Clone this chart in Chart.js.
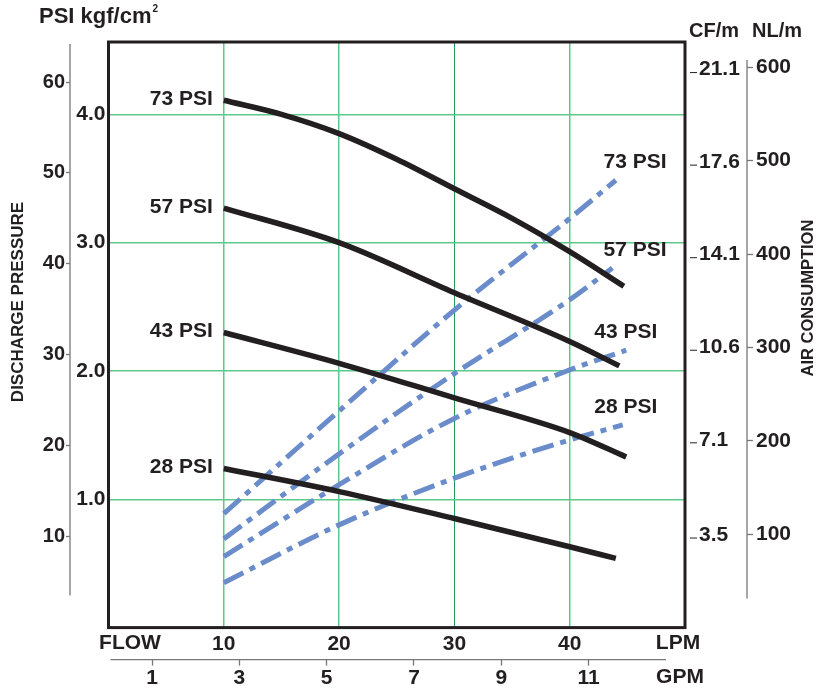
<!DOCTYPE html>
<html>
<head>
<meta charset="utf-8">
<script src="https://cdn.jsdelivr.net/npm/chart.js@4.4.1/dist/chart.umd.min.js"></script>
<style>
  html, body { margin: 0; padding: 0; background: #fff; }
  #wrap { width: 831px; height: 696px; position: relative; }
</style>
</head>
<body>
<div id="wrap"><canvas id="pump"></canvas></div>
<script>
// axis ticks
const lpmTicks = [10, 20, 30, 40];
const gpmTicks = [1, 3, 5, 7, 9, 11];
const psiTicks = [10, 20, 30, 40, 50, 60];
const kgfTicks = [1, 2, 3, 4];
const cfTicks = [3.5, 7.1, 10.6, 14.1, 17.6, 21.1];
const nlTicks = [100, 200, 300, 400, 500, 600];
const airLabels = ['73 PSI', '57 PSI', '43 PSI', '28 PSI'];

// discharge pressure (kgf/cm2) vs flow (LPM)
const flow73 = [10, 15, 20, 25, 30, 35, 40, 44.7];
const head73 = [4.11, 4.00, 3.85, 3.65, 3.42, 3.19, 2.93, 2.66];
const flow57 = [10, 20, 30, 40, 44.3];
const head57 = [3.27, 3.00, 2.61, 2.23, 2.04];
const flow43 = [10, 20, 30, 40, 44.9];
const head43 = [2.30, 2.06, 1.79, 1.52, 1.33];
const flow28 = [10, 20, 30, 40, 44.0];
const head28 = [1.24, 1.06, 0.85, 0.63, 0.54];

// air consumption (NL/m) vs flow (LPM)
const airFlow73 = [10, 20, 30, 40, 44.0];
const air73 = [122, 232, 340, 438, 479];
const airFlow57 = [10, 20, 30, 40, 43.7];
const air57 = [95, 186, 272, 351, 385];
const airFlow43 = [10, 20, 30, 40, 44.9];
const air43 = [76, 153, 224, 276, 297];
const airFlow28 = [10, 20, 30, 40, 44.6];
const air28 = [48, 110, 160, 201, 217];

const FONT = '"Liberation Sans", Arial, sans-serif';
const INK = '#231f20';
const BLUE = '#6a8cca';
const GREEN = '#5cc98a';
const GREY = '#777';

const pts = (xs, ys) => xs.map((x, i) => ({x: x, y: ys[i]}));
const setTicks = list => scale => { scale.ticks = list.map(v => ({value: v})); };
const bold = size => ({family: FONT, size: size, weight: 'bold'});

const pumpSet = (xs, ys) => ({
  data: pts(xs, ys), yAxisID: 'y', borderColor: INK, borderWidth: 5.5,
  pointRadius: 0, cubicInterpolationMode: 'monotone', borderCapStyle: 'butt'
});
const airSet = (xs, ys) => ({
  data: pts(xs, ys), yAxisID: 'yNl', borderColor: BLUE, borderWidth: 5,
  borderDash: [22, 7, 6, 7], pointRadius: 0, cubicInterpolationMode: 'monotone',
  borderCapStyle: 'butt'
});

const annotate = {
  id: 'annotate',
  afterDraw(chart) {
    const {ctx, chartArea: a, scales: s} = chart;
    const text = (t, x, y, size, align) => {
      ctx.font = 'bold ' + size + 'px ' + FONT;
      ctx.textAlign = align || 'left';
      ctx.textBaseline = 'middle';
      ctx.fillText(t, x, y);
    };
    const line = (x1, y1, x2, y2) => {
      ctx.beginPath(); ctx.moveTo(x1, y1); ctx.lineTo(x2, y2); ctx.stroke();
    };
    ctx.save();
    // plot frame
    ctx.strokeStyle = INK;
    ctx.lineWidth = 3;
    ctx.strokeRect(a.left, a.top, a.right - a.left, a.bottom - a.top);
    // outer scale lines
    ctx.strokeStyle = GREY;
    ctx.lineWidth = 1.3;
    line(s.yPsi.right, a.top + 2, s.yPsi.right, a.bottom - 32);
    line(s.yNl.left, a.top + 18, s.yNl.left, a.bottom - 29);
    line(a.left + 2, s.xGpm.top, a.right - 19, s.xGpm.top);
    // CF/m tick dashes
    ctx.lineWidth = 1;
    ctx.strokeStyle = INK;
    cfTicks.forEach(v => {
      const y = s.yCf.getPixelForValue(v) + 3;
      line(a.right + 5, y, a.right + 12, y);
    });

    ctx.fillStyle = INK;
    text('PSI kgf/cm', 39, 17, 22);
    const w = ctx.measureText('PSI kgf/cm').width;
    text('2', 39 + w + 1, 9, 10);
    text('CF/m', 689, 31, 20);
    text('NL/m', 752, 31, 20);
    text('FLOW', 130, s.x.top + 16, 21, 'center');
    text('LPM', 678, s.x.top + 16, 21, 'center');
    text('GPM', 680, s.xGpm.top + 18, 21, 'center');

    ctx.save();
    ctx.translate(18.5, 302);
    ctx.rotate(-Math.PI / 2);
    text('DISCHARGE PRESSURE', 0, 0, 17, 'center');
    ctx.restore();
    ctx.save();
    ctx.translate(808.5, 298);
    ctx.rotate(-Math.PI / 2);
    text('AIR CONSUMPTION', 0, 0, 16.5, 'center');
    ctx.restore();

    // curve labels
    const heads = [head73, head57, head43, head28];
    const airs = [air73, air57, air43, air28];
    airLabels.forEach((lab, i) => {
      text(lab, s.x.getPixelForValue(10) - 11, s.y.getPixelForValue(heads[i][0]) - 1, 21, 'right');
      const last = airs[i][airs[i].length - 1];
      const edge = i < 2 ? 48.4 : 47.6;
      text(lab, s.x.getPixelForValue(edge), s.yNl.getPixelForValue(last) - 18, 21, 'right');
    });
    ctx.restore();
  }
};

new Chart(document.getElementById('pump'), {
  type: 'line',
  data: {
    datasets: [
      pumpSet(flow73, head73), pumpSet(flow57, head57),
      pumpSet(flow43, head43), pumpSet(flow28, head28),
      airSet(airFlow73, air73), airSet(airFlow57, air57),
      airSet(airFlow43, air43), airSet(airFlow28, air28)
    ]
  },
  options: {
    responsive: true,
    maintainAspectRatio: false,
    animation: false,
    layout: {padding: {top: 42, left: 0, right: 0, bottom: 0}},
    plugins: {legend: {display: false}, tooltip: {enabled: false}},
    scales: {
      x: {
        type: 'linear', position: 'bottom', min: 0, max: 50, weight: 0,
        afterBuildTicks: setTicks(lpmTicks),
        afterFit: scale => { scale.height = 32; },
        border: {display: false},
        grid: {
          drawTicks: false,
          color: c => (c.tick && c.tick.value === 30) ? '#1f9a55' : GREEN,
          lineWidth: c => (c.tick && c.tick.value === 30) ? 1 : 1.5
        },
        ticks: {color: INK, padding: 4, font: bold(21)}
      },
      xGpm: {
        type: 'linear', position: 'bottom', min: 0, max: 50 / 3.785, weight: 1,
        afterBuildTicks: setTicks(gpmTicks),
        afterFit: scale => { scale.height = 36.4; },
        border: {display: false},
        grid: {drawOnChartArea: false, drawTicks: true, tickLength: 6, tickColor: GREY, tickWidth: 1.3},
        ticks: {color: INK, padding: 0, font: bold(21)}
      },
      y: {
        type: 'linear', position: 'left', min: 0, max: 4.564, weight: 0,
        afterBuildTicks: setTicks(kgfTicks),
        afterFit: scale => { scale.width = 38.5; },
        border: {display: false},
        grid: {drawTicks: false, color: GREEN, lineWidth: 1.5},
        ticks: {color: INK, padding: 3, callback: v => v.toFixed(1), font: bold(21)}
      },
      yPsi: {
        type: 'linear', position: 'left', min: 0, max: 64.4, weight: 1,
        afterBuildTicks: setTicks(psiTicks),
        afterFit: scale => { scale.width = 70; },
        border: {display: false},
        grid: {drawOnChartArea: false, tickLength: 4, tickColor: GREY, tickWidth: 1.3},
        ticks: {color: INK, padding: 1, font: bold(20)}
      },
      yCf: {
        type: 'linear', position: 'right', min: 0, max: 627 / 28.317, weight: 0,
        afterBuildTicks: setTicks(cfTicks),
        afterFit: scale => { scale.width = 62; },
        border: {display: false},
        grid: {drawOnChartArea: false, drawTicks: false},
        ticks: {color: INK, padding: 14, callback: v => v.toFixed(1), font: bold(21)}
      },
      yNl: {
        type: 'linear', position: 'right', min: 0, max: 627, weight: 1,
        afterBuildTicks: setTicks(nlTicks),
        afterFit: scale => { scale.width = 84; },
        border: {display: false},
        grid: {drawOnChartArea: false, tickLength: 6, tickColor: GREY, tickWidth: 1.3},
        ticks: {color: INK, padding: 3, font: bold(21)}
      }
    }
  },
  plugins: [annotate]
});
</script>
</body>
</html>
